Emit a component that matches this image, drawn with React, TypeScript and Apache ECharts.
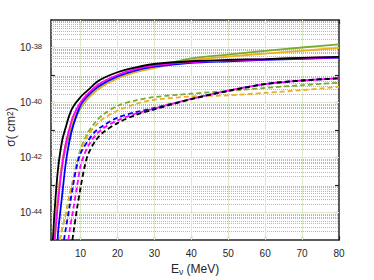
import React, { useEffect, useRef } from "react";
import * as echarts from "echarts";

// ---- Data (energy in MeV, cross section in cm^2) ----
const X_TICKS = [10, 20, 30, 40, 50, 60, 70, 80];
const Y_LABEL_DECADES = [-44, -42, -40, -38];

// Solid curves
const E_BLACK = [2.5, 3, 3.5, 4, 5, 6, 7, 8, 10, 12, 15, 20, 25, 30, 40, 50, 60, 70, 80];
const S_BLACK = [1.0e-45, 1.26e-44, 1.0e-43, 5.01e-43, 3.98e-42, 1.26e-41, 3.55e-41, 7.08e-41, 1.58e-40, 2.82e-40, 6.31e-40, 1.26e-39, 1.91e-39, 2.51e-39, 3.16e-39, 3.55e-39, 3.8e-39, 4.17e-39, 4.57e-39];

const E_MAGENTA = [3, 3.5, 4, 5, 6, 7, 8, 10, 12, 15, 20, 25, 30, 40, 50, 60, 70, 80];
const S_MAGENTA = [1.0e-45, 6.31e-45, 3.16e-44, 5.01e-43, 3.16e-42, 1.12e-41, 3.16e-41, 1.0e-40, 2.09e-40, 4.68e-40, 1.0e-39, 1.66e-39, 2.24e-39, 2.95e-39, 3.39e-39, 3.72e-39, 4.07e-39, 4.47e-39];

const E_BLUE = [3.8, 4, 5, 6, 7, 8, 10, 12, 15, 20, 25, 30, 40, 50, 60, 70, 80];
const S_BLUE = [1.0e-45, 2.51e-45, 3.98e-44, 6.31e-43, 3.98e-42, 1.41e-41, 7.94e-41, 1.78e-40, 3.98e-40, 8.91e-40, 1.48e-39, 2.0e-39, 2.75e-39, 3.16e-39, 3.55e-39, 3.89e-39, 4.27e-39];

const E_ORANGE = [3, 3.5, 4, 5, 6, 7, 8, 10, 12, 15, 20, 25, 30, 40, 50, 60, 70, 80];
const S_ORANGE = [1.0e-45, 1.0e-44, 5.01e-44, 6.31e-43, 3.16e-42, 1.0e-41, 2.51e-41, 7.08e-41, 1.41e-40, 3.16e-40, 7.59e-40, 1.26e-39, 1.78e-39, 3.47e-39, 4.68e-39, 6.03e-39, 7.59e-39, 9.77e-39];

const E_GREEN = [3, 3.5, 4, 5, 6, 7, 8, 10, 12, 15, 20, 25, 30, 40, 50, 60, 70, 80];
const S_GREEN = [1.0e-45, 8.91e-45, 4.47e-44, 5.01e-43, 2.24e-42, 7.08e-42, 1.78e-41, 6.31e-41, 1.41e-40, 3.55e-40, 7.59e-40, 1.32e-39, 2.0e-39, 3.98e-39, 5.5e-39, 7.59e-39, 1.0e-38, 1.29e-38];

// Dashed curves
const E_BLACK_D = [7.8, 8, 9, 10, 11, 12, 14, 16, 20, 25, 30, 40, 50, 60, 70, 80];
const S_BLACK_D = [1.0e-45, 1.58e-45, 1.26e-44, 7.94e-44, 3.98e-43, 1.26e-42, 3.98e-42, 7.94e-42, 1.78e-41, 3.55e-41, 5.62e-41, 1.32e-40, 2.63e-40, 4.68e-40, 6.31e-40, 7.59e-40];

const E_MAGENTA_D = [6.7, 7, 8, 9, 10, 11, 12, 14, 16, 20, 25, 30, 40, 50, 60, 70, 80];
const S_MAGENTA_D = [1.0e-45, 2.0e-45, 1.26e-44, 7.94e-44, 5.01e-43, 1.26e-42, 2.51e-42, 6.31e-42, 1.12e-41, 2.24e-41, 3.98e-41, 6.03e-41, 1.35e-40, 2.69e-40, 4.68e-40, 6.31e-40, 7.59e-40];

const E_BLUE_D = [5.5, 6, 7, 8, 9, 10, 12, 14, 16, 20, 25, 30, 40, 50, 60, 70, 80];
const S_BLUE_D = [1.0e-45, 2.51e-45, 1.58e-44, 1.0e-43, 5.01e-43, 1.41e-42, 3.98e-42, 8.91e-42, 1.41e-41, 2.82e-41, 4.47e-41, 6.31e-41, 1.35e-40, 2.69e-40, 4.68e-40, 6.31e-40, 7.59e-40];

const E_ORANGE_D = [4.4, 5, 6, 7, 8, 9, 10, 12, 14, 16, 20, 25, 30, 40, 50, 60, 70, 80];
const S_ORANGE_D = [1.0e-45, 2.51e-45, 8.91e-45, 3.98e-44, 1.58e-43, 6.31e-43, 1.78e-42, 6.31e-42, 1.41e-41, 2.51e-41, 5.01e-41, 8.91e-41, 1.26e-40, 1.66e-40, 1.82e-40, 2.24e-40, 2.82e-40, 3.72e-40];

const E_GREEN_D = [4.4, 5, 6, 7, 8, 9, 10, 12, 14, 16, 20, 25, 30, 40, 50, 60, 70, 80];
const S_GREEN_D = [1.0e-45, 2.51e-45, 8.91e-45, 3.98e-44, 1.58e-43, 6.31e-43, 2.0e-42, 7.94e-42, 1.91e-41, 3.55e-41, 7.59e-41, 1.2e-40, 1.58e-40, 2.09e-40, 2.63e-40, 3.39e-40, 4.27e-40, 5.25e-40];

const C_BLACK = "#000000";
const C_MAGENTA = "#FF00FF";
const C_BLUE = "#0000FF";
const C_ORANGE = "#EDB120";
const C_GREEN = "#77AC30";

const AXIS_COLOR = "#262626";
const FONT = "'Liberation Sans', Arial, sans-serif";
const X_MIN = 2;
const X_MAX = 80;
const Y_MIN_EXP = -45;
const Y_MAX_EXP = -37;

function pairs(xs: number[], ys: number[]) {
  return xs.map((x, i) => [x, ys[i]]);
}

function curve(name: string, xs: number[], ys: number[], color: string, dashed: boolean) {
  return {
    name,
    type: "line",
    data: pairs(xs, ys),
    showSymbol: false,
    symbol: "none",
    smooth: 0.3,
    clip: true,
    z: 3,
    lineStyle: { color, width: 1.8, type: dashed ? [5, 3] : "solid" },
    itemStyle: { color },
    silent: true,
  };
}

export default function App() {
  const ref = useRef<HTMLDivElement>(null);
  useEffect(() => {
    document.body.style.margin = "0";
    if (!ref.current) return;
    const chart = echarts.init(ref.current, null, { renderer: "svg", width: 374, height: 280 });

    // MATLAB-like grid: dotted minor lines at k*10^n, light major lines
    const minorLines: any[] = [];
    for (let e = Y_MIN_EXP; e < Y_MAX_EXP; e++) {
      for (let k = 2; k <= 9; k++) {
        const v = k * Math.pow(10, e);
        minorLines.push({ coords: [[X_MIN, v], [X_MAX, v]] });
      }
    }
    const majorLines: any[] = [];
    Y_LABEL_DECADES.forEach((e) => {
      const v = Math.pow(10, e);
      majorLines.push({ coords: [[X_MIN, v], [X_MAX, v]] });
    });
    X_TICKS.slice(0, -1).forEach((x) => {
      majorLines.push({ coords: [[x, Math.pow(10, Y_MIN_EXP)], [x, Math.pow(10, Y_MAX_EXP)]] });
    });

    const xAxisBase = {
      type: "value",
      min: X_MIN,
      max: X_MAX,
      splitLine: { show: false },
      axisLine: { show: true, onZero: false, lineStyle: { color: AXIS_COLOR, width: 1.5 } },
      axisTick: { show: true, inside: true, length: 4, customValues: X_TICKS, lineStyle: { color: AXIS_COLOR, width: 1.2 } },
    };
    const yAxisBase = {
      type: "log",
      logBase: 10,
      min: Math.pow(10, Y_MIN_EXP),
      max: Math.pow(10, Y_MAX_EXP),
      splitLine: { show: false },
      axisLine: { show: true, onZero: false, lineStyle: { color: AXIS_COLOR, width: 1.5 } },
      axisTick: { show: true, inside: true, length: 4, lineStyle: { color: AXIS_COLOR, width: 1.2 } },
    };

    chart.setOption({
      animation: false,
      backgroundColor: "#ffffff",
      grid: { left: 51, top: 20, right: 35, bottom: 40, containLabel: false, outerBoundsMode: "none" },
      xAxis: [
        {
          ...xAxisBase,
          position: "bottom",
          axisLabel: { customValues: X_TICKS, color: AXIS_COLOR, fontSize: 10, fontFamily: FONT, margin: 8 },
          name: "{a|E}{sub|ν}{a| (MeV)}",
          nameLocation: "middle",
          nameGap: 22,
          nameTextStyle: {
            color: AXIS_COLOR,
            fontFamily: FONT,
            rich: {
              a: { fontSize: 12, lineHeight: 12, verticalAlign: "top", fontFamily: FONT, color: AXIS_COLOR },
              sub: { fontSize: 8.5, lineHeight: 8.5, padding: [5, 0, 0, 0], verticalAlign: "top", fontFamily: FONT, color: AXIS_COLOR },
            },
          },
        },
        { ...xAxisBase, position: "top", axisLabel: { show: false } },
      ],
      yAxis: [
        {
          ...yAxisBase,
          position: "left",
          axisLabel: {
            color: AXIS_COLOR,
            fontFamily: FONT,
            margin: 9,
            formatter: (v: number) => {
              const e = Math.round(Math.log10(v));
              return Y_LABEL_DECADES.indexOf(e) >= 0 ? `{a|10}{sup|${e}}` : "";
            },
            rich: {
              a: { fontSize: 10, lineHeight: 10, verticalAlign: "bottom", fontFamily: FONT, color: AXIS_COLOR },
              sup: { fontSize: 7.5, lineHeight: 7.5, padding: [0, 0, 5, 0], verticalAlign: "top", fontFamily: FONT, color: AXIS_COLOR },
            },
          },
        },
        { ...yAxisBase, position: "right", axisLabel: { show: false } },
      ],
      graphic: [
        {
          type: "text",
          x: 11,
          y: 127,
          rotation: Math.PI / 2,
          silent: true,
          style: {
            text: "{a|σ( cm}{sup|2}{a|)}",
            align: "center",
            verticalAlign: "middle",
            fill: AXIS_COLOR,
            fontFamily: FONT,
            rich: {
              a: { fontSize: 12, lineHeight: 12, verticalAlign: "bottom", fontFamily: FONT, fill: AXIS_COLOR },
              sup: { fontSize: 8.5, lineHeight: 8.5, padding: [0, 0, 6, 0], verticalAlign: "top", fontFamily: FONT, fill: AXIS_COLOR },
            },
          },
        },
      ],
      series: [
        {
          name: "minor grid",
          type: "lines",
          coordinateSystem: "cartesian2d",
          polyline: false,
          silent: true,
          z: 1,
          lineStyle: { color: "#a4a4a4", width: 0.8, type: [1, 1], opacity: 1 },
          data: minorLines,
        },
        {
          name: "major grid",
          type: "lines",
          coordinateSystem: "cartesian2d",
          polyline: false,
          silent: true,
          z: 1,
          lineStyle: { color: "#dce9cb", width: 1, type: "solid", opacity: 1 },
          data: majorLines,
        },
        curve("green dashed", E_GREEN_D, S_GREEN_D, C_GREEN, true),
        curve("orange dashed", E_ORANGE_D, S_ORANGE_D, C_ORANGE, true),
        curve("blue dashed", E_BLUE_D, S_BLUE_D, C_BLUE, true),
        curve("magenta dashed", E_MAGENTA_D, S_MAGENTA_D, C_MAGENTA, true),
        curve("black dashed", E_BLACK_D, S_BLACK_D, C_BLACK, true),
        curve("green", E_GREEN, S_GREEN, C_GREEN, false),
        curve("orange", E_ORANGE, S_ORANGE, C_ORANGE, false),
        curve("blue", E_BLUE, S_BLUE, C_BLUE, false),
        curve("magenta", E_MAGENTA, S_MAGENTA, C_MAGENTA, false),
        curve("black", E_BLACK, S_BLACK, C_BLACK, false),
      ],
    });
    return () => chart.dispose();
  }, []);
  return <div ref={ref} style={{ width: 374, height: 280 }} />;
}
